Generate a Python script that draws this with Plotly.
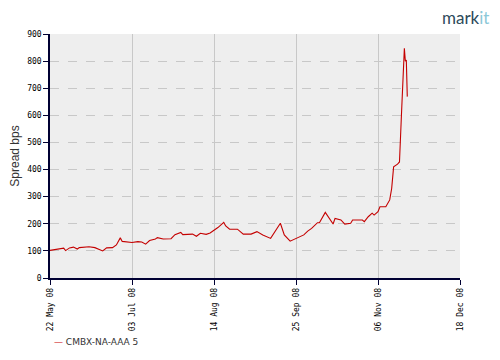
import plotly.graph_objects as go

dates = [
    "2008-05-22", "2008-05-25", "2008-05-27", "2008-05-29", "2008-05-30",
    "2008-06-01", "2008-06-03", "2008-06-05", "2008-06-06", "2008-06-09",
    "2008-06-11", "2008-06-14", "2008-06-17", "2008-06-18", "2008-06-20",
    "2008-06-23", "2008-06-25", "2008-06-27", "2008-06-28", "2008-07-01",
    "2008-07-03", "2008-07-06", "2008-07-08", "2008-07-10", "2008-07-12",
    "2008-07-15", "2008-07-16", "2008-07-19", "2008-07-22", "2008-07-23",
    "2008-07-25", "2008-07-28", "2008-07-29", "2008-08-01", "2008-08-03",
    "2008-08-05", "2008-08-07", "2008-08-10", "2008-08-12", "2008-08-16",
    "2008-08-19", "2008-08-20", "2008-08-22", "2008-08-26", "2008-08-29",
    "2008-09-02", "2008-09-05", "2008-09-08", "2008-09-12", "2008-09-17",
    "2008-09-19", "2008-09-22", "2008-09-26", "2008-09-29", "2008-10-01",
    "2008-10-03", "2008-10-06", "2008-10-07", "2008-10-10", "2008-10-12",
    "2008-10-14", "2008-10-15", "2008-10-18", "2008-10-20", "2008-10-23",
    "2008-10-24", "2008-10-29", "2008-10-30", "2008-11-01", "2008-11-03",
    "2008-11-04", "2008-11-06", "2008-11-07", "2008-11-10", "2008-11-12",
    "2008-11-13", "2008-11-14", "2008-11-16", "2008-11-17", "2008-11-18",
    "2008-11-19", "2008-11-19 12:00", "2008-11-20", "2008-11-20 12:00",
    "2008-11-21",
]
spread_bps = [
    102, 106, 107, 110, 101,
    111, 114, 107, 112, 114,
    115, 112, 103, 100, 111,
    112, 122, 148, 135, 133,
    131, 134, 133, 125, 138,
    144, 149, 144, 144, 145,
    160, 168, 160, 162, 162,
    154, 165, 161, 166, 186,
    205, 192, 180, 180, 162,
    162, 171, 159, 146, 202,
    159, 136, 149, 159, 173,
    183, 204, 204, 242, 221,
    199, 220, 214, 199, 202,
    214, 214, 208, 226, 239,
    232, 245, 263, 263, 288,
    330, 410, 420, 428, 600,
    790, 847, 800, 804,
    669,
]
series_name = "CMBX-NA-AAA 5"
tick_dates = ["2008-05-22", "2008-07-03", "2008-08-14", "2008-09-25", "2008-11-06", "2008-12-18"]
tick_labels = ["22 May 08", "03 Jul 08", "14 Aug 08", "25 Sep 08", "06 Nov 08", "18 Dec 08"]
y_ticks = [0, 100, 200, 300, 400, 500, 600, 700, 800, 900]

fig = go.Figure()
fig.add_trace(go.Scatter(
    x=dates, y=spread_bps, mode="lines", name=series_name,
    line=dict(color="#c40000", width=1.1), showlegend=False,
))

axis_col = "#000033"
tick_font = dict(family="DejaVu Sans Mono", size=8, color="#000000")

fig.update_layout(
    width=492, height=352,
    margin=dict(l=42, r=40, t=26, b=82, autoexpand=False),
    paper_bgcolor="#ffffff",
    plot_bgcolor="#eeeeee",
    xaxis=dict(
        range=["2008-05-22", "2008-12-18"],
        tickmode="array", tickvals=tick_dates, ticktext=tick_labels,
        tickangle=-90, tickfont=tick_font,
        ticks="outside", ticklen=5, tickcolor=axis_col, tickwidth=1,
        showline=True, linecolor=axis_col, linewidth=1.5,
        showgrid=True, gridcolor="#c8c8c8", gridwidth=1,
        zeroline=False, automargin=False,
    ),
    yaxis=dict(
        range=[0, 900],
        tickmode="array", tickvals=y_ticks,
        tickfont=tick_font,
        ticks="outside", ticklen=5, tickcolor=axis_col, tickwidth=1,
        showline=True, linecolor=axis_col, linewidth=1.5,
        showgrid=True, gridcolor="#c8c8c8", gridwidth=1, griddash="dash",
        zeroline=False, automargin=False,
        title=dict(text="Spread bps", font=dict(family="Liberation Sans", size=12, color="#333333"), standoff=8),
    ),
    annotations=[
        dict(
            text="<span style='color:#cc0000'>—</span> " + series_name,
            xref="paper", yref="paper", x=0.005, y=-0.262,
            xanchor="left", yanchor="middle", showarrow=False,
            font=dict(family="DejaVu Sans", size=9, color="#333333"),
        ),
        dict(
            text="mark<span style='color:#8cc8d8'>it</span>",
            xref="paper", yref="paper", x=1.075, y=1.066,
            xanchor="right", yanchor="middle", showarrow=False,
            font=dict(family="Lato", size=17, color="#2d4a5a"),
        ),
    ],
)

fig.write_html("out.html")
